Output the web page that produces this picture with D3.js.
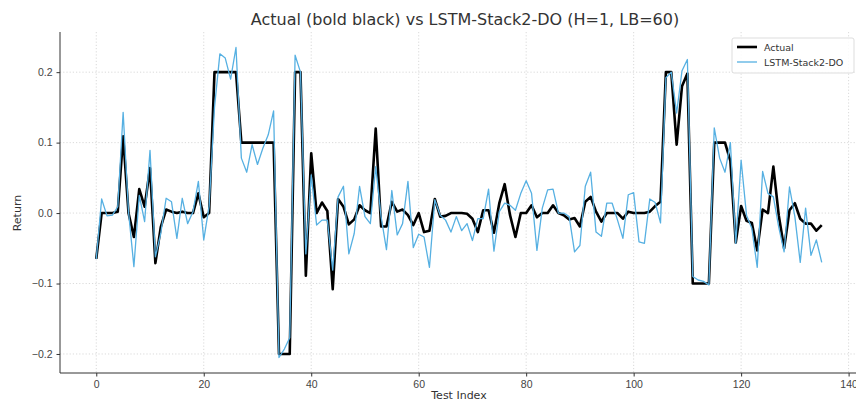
<!DOCTYPE html>
<html>
<head>
<meta charset="utf-8">
<script src="https://d3js.org/d3.v7.min.js"></script>
<style>
    body { margin: 0; background: #fff; }
    svg { display: block; font-family: "DejaVu Sans", sans-serif; }
    .grid line { stroke: #d0d0d0; stroke-width: 0.8; stroke-dasharray: 1.2 2; }
    .axis text { fill: #444; font-size: 10.5px; }
    .axis line, .axis path { stroke: #333; }
</style>
</head>
<body>
<div id="chart"></div>
<script>
// values, index 0..135
const actual = [
    -0.065, 0.0, 0.0, 0.0, 0.002, 0.109, 0.0, -0.034, 0.034, 0.009,
    0.064, -0.071, -0.02, 0.005, 0.002, 0.0, 0.002, 0.0, 0.0, 0.028,
    -0.006, 0.0, 0.2, 0.2, 0.2, 0.2, 0.2, 0.1, 0.1, 0.1,
    0.1, 0.1, 0.1, 0.1, -0.2, -0.2, -0.2, 0.2, 0.2, -0.089,
    0.085, 0.0, 0.015, 0.003, -0.108, 0.02, 0.009, -0.016, -0.009, 0.011,
    0.004, 0.0, 0.12, -0.019, -0.019, 0.016, 0.002, 0.005, -0.003, -0.017,
    0.0, -0.027, -0.025, 0.02, -0.005, -0.004, 0.0, 0.0, 0.0, -0.001,
    -0.008, -0.027, 0.004, 0.004, -0.028, 0.014, 0.041, -0.003, -0.034, 0.0,
    0.0, 0.011, -0.006, 0.0, 0.0, 0.011, 0.0, -0.003, -0.009, -0.007,
    -0.019, 0.016, 0.023, 0.002, -0.012, 0.0, 0.0, 0.0, -0.008, 0.002,
    0.0, 0.0, 0.0, 0.002, 0.01, 0.016, 0.2, 0.2, 0.097, 0.18,
    0.198, -0.1, -0.1, -0.1, -0.1, 0.1, 0.1, 0.1, 0.074, -0.042,
    0.01, -0.011, -0.014, -0.053, 0.005, 0.0, 0.066, -0.003, -0.05, 0.004,
    0.014, -0.008, -0.015, -0.015, -0.025, -0.017
];

const predicted = [
    -0.065, 0.02, -0.004, -0.003, 0.009, 0.143, 0.002, -0.076, 0.025, -0.012,
    0.089, -0.062, -0.029, 0.021, 0.016, -0.036, 0.021, -0.015, 0.002, 0.045,
    -0.038, 0.01, 0.15, 0.226, 0.22, 0.19, 0.235, 0.078, 0.058, 0.097,
    0.069, 0.092, 0.111, 0.145, -0.205, -0.193, -0.177, 0.224, 0.2, -0.058,
    0.054, -0.017, -0.01, -0.01, -0.081, 0.023, 0.038, -0.058, -0.029, 0.038,
    -0.005, -0.015, 0.066, -0.005, -0.052, 0.032, -0.031, -0.015, 0.045, -0.049,
    -0.03, -0.034, -0.077, 0.019, -0.003, -0.01, -0.027, -0.005, -0.025, -0.015,
    -0.039, -0.008, -0.008, 0.034, -0.054, 0.002, 0.014, 0.011, 0.004, 0.028,
    0.046, 0.028, -0.053, 0.007, 0.033, 0.034, 0.0, 0.0, -0.005, -0.055,
    -0.046, 0.038, 0.058, -0.027, -0.033, 0.014, 0.014, -0.01, -0.036, 0.026,
    0.029, -0.041, -0.043, 0.02, 0.015, -0.014, 0.192, 0.2, 0.142, 0.202,
    0.218, -0.09, -0.095, -0.097, -0.102, 0.121, 0.078, 0.058, 0.1, -0.043,
    0.075, -0.003, -0.022, -0.077, 0.059, 0.028, 0.023, -0.02, -0.055, 0.037,
    -0.005, -0.07, 0.007, -0.06, -0.038, -0.07
];

const xTicks = [0, 20, 40, 60, 80, 100, 120, 140];
const yTicks = [-0.2, -0.1, 0.0, 0.1, 0.2];
const seriesNames = ["Actual", "LSTM-Stack2-DO"];

const width = 856, height = 402;
const margin = { top: 32, right: -2, bottom: 29, left: 60 };
const innerW = width - margin.left - margin.right;
const innerH = height - margin.top - margin.bottom;

const svg = d3.select("#chart").append("svg")
    .attr("width", width)
    .attr("height", height);

const g = svg.append("g")
    .attr("transform", `translate(${margin.left},${margin.top})`);

const n = actual.length;
const x = d3.scaleLinear()
    .domain([-(n - 1) * 0.05, (n - 1) * 1.05])
    .range([0, innerW]);

const allVals = actual.concat(predicted);
const lo = d3.min(allVals), hi = d3.max(allVals);
const pad = (hi - lo) * 0.05;
const y = d3.scaleLinear()
    .domain([lo - pad, hi + pad])
    .range([innerH, 0]);

// grid
g.append("g").attr("class", "grid")
    .selectAll("line").data(xTicks).join("line")
    .attr("x1", d => x(d)).attr("x2", d => x(d))
    .attr("y1", 0).attr("y2", innerH);
g.append("g").attr("class", "grid")
    .selectAll("line").data(yTicks).join("line")
    .attr("x1", 0).attr("x2", innerW)
    .attr("y1", d => y(d)).attr("y2", d => y(d));

// axes
const xAxis = g.append("g").attr("class", "axis")
    .attr("transform", `translate(0,${innerH})`)
    .call(d3.axisBottom(x).tickValues(xTicks).tickFormat(d3.format("d")).tickSize(3.5).tickPadding(4));
const yAxis = g.append("g").attr("class", "axis")
    .call(d3.axisLeft(y).tickValues(yTicks).tickFormat(d3.format(".1f")).tickSize(3.5).tickPadding(4));
xAxis.select(".domain").attr("d", `M0,0H${innerW}`);
yAxis.select(".domain").attr("d", `M0,0V${innerH}`);

// lines
const line = d3.line()
    .x((d, i) => x(i))
    .y(d => y(d));

g.append("path")
    .datum(actual)
    .attr("fill", "none")
    .attr("stroke", "#000")
    .attr("stroke-width", 2.6)
    .attr("stroke-linejoin", "round")
    .attr("d", line);

g.append("path")
    .datum(predicted)
    .attr("fill", "none")
    .attr("stroke", "#56b0e2")
    .attr("stroke-width", 1.3)
    .attr("stroke-linejoin", "round")
    .attr("d", line);

// title and labels
svg.append("text")
    .attr("x", 465).attr("y", 25)
    .attr("text-anchor", "middle")
    .attr("fill", "#333")
    .style("font-size", "16px")
    .text("Actual (bold black) vs LSTM-Stack2-DO (H=1, LB=60)");

svg.append("text")
    .attr("x", margin.left + innerW / 2)
    .attr("y", 399)
    .attr("text-anchor", "middle")
    .attr("fill", "#333")
    .style("font-size", "11px")
    .text("Test Index");

svg.append("text")
    .attr("transform", `translate(21,${margin.top + y(0)}) rotate(-90)`)
    .attr("text-anchor", "middle")
    .attr("fill", "#333")
    .style("font-size", "11px")
    .text("Return");

// legend
const legend = svg.append("g").attr("transform", "translate(732,38)");
legend.append("rect")
    .attr("width", 122).attr("height", 35).attr("rx", 2)
    .attr("fill", "#fff").attr("fill-opacity", 0.85)
    .attr("stroke", "#ddd");
const legendStyles = [
    { color: "#000", w: 2.6 },
    { color: "#56b0e2", w: 1.3 }
];
seriesNames.forEach((name, i) => {
    const row = legend.append("g").attr("transform", `translate(0,${9 + i * 15})`);
    row.append("line")
        .attr("x1", 5).attr("x2", 25).attr("y1", 0).attr("y2", 0)
        .attr("stroke", legendStyles[i].color)
        .attr("stroke-width", legendStyles[i].w);
    row.append("text")
        .attr("x", 32).attr("y", 3.5)
        .attr("fill", "#333")
        .style("font-size", "9.5px")
        .text(name);
});
</script>
</body>
</html>
